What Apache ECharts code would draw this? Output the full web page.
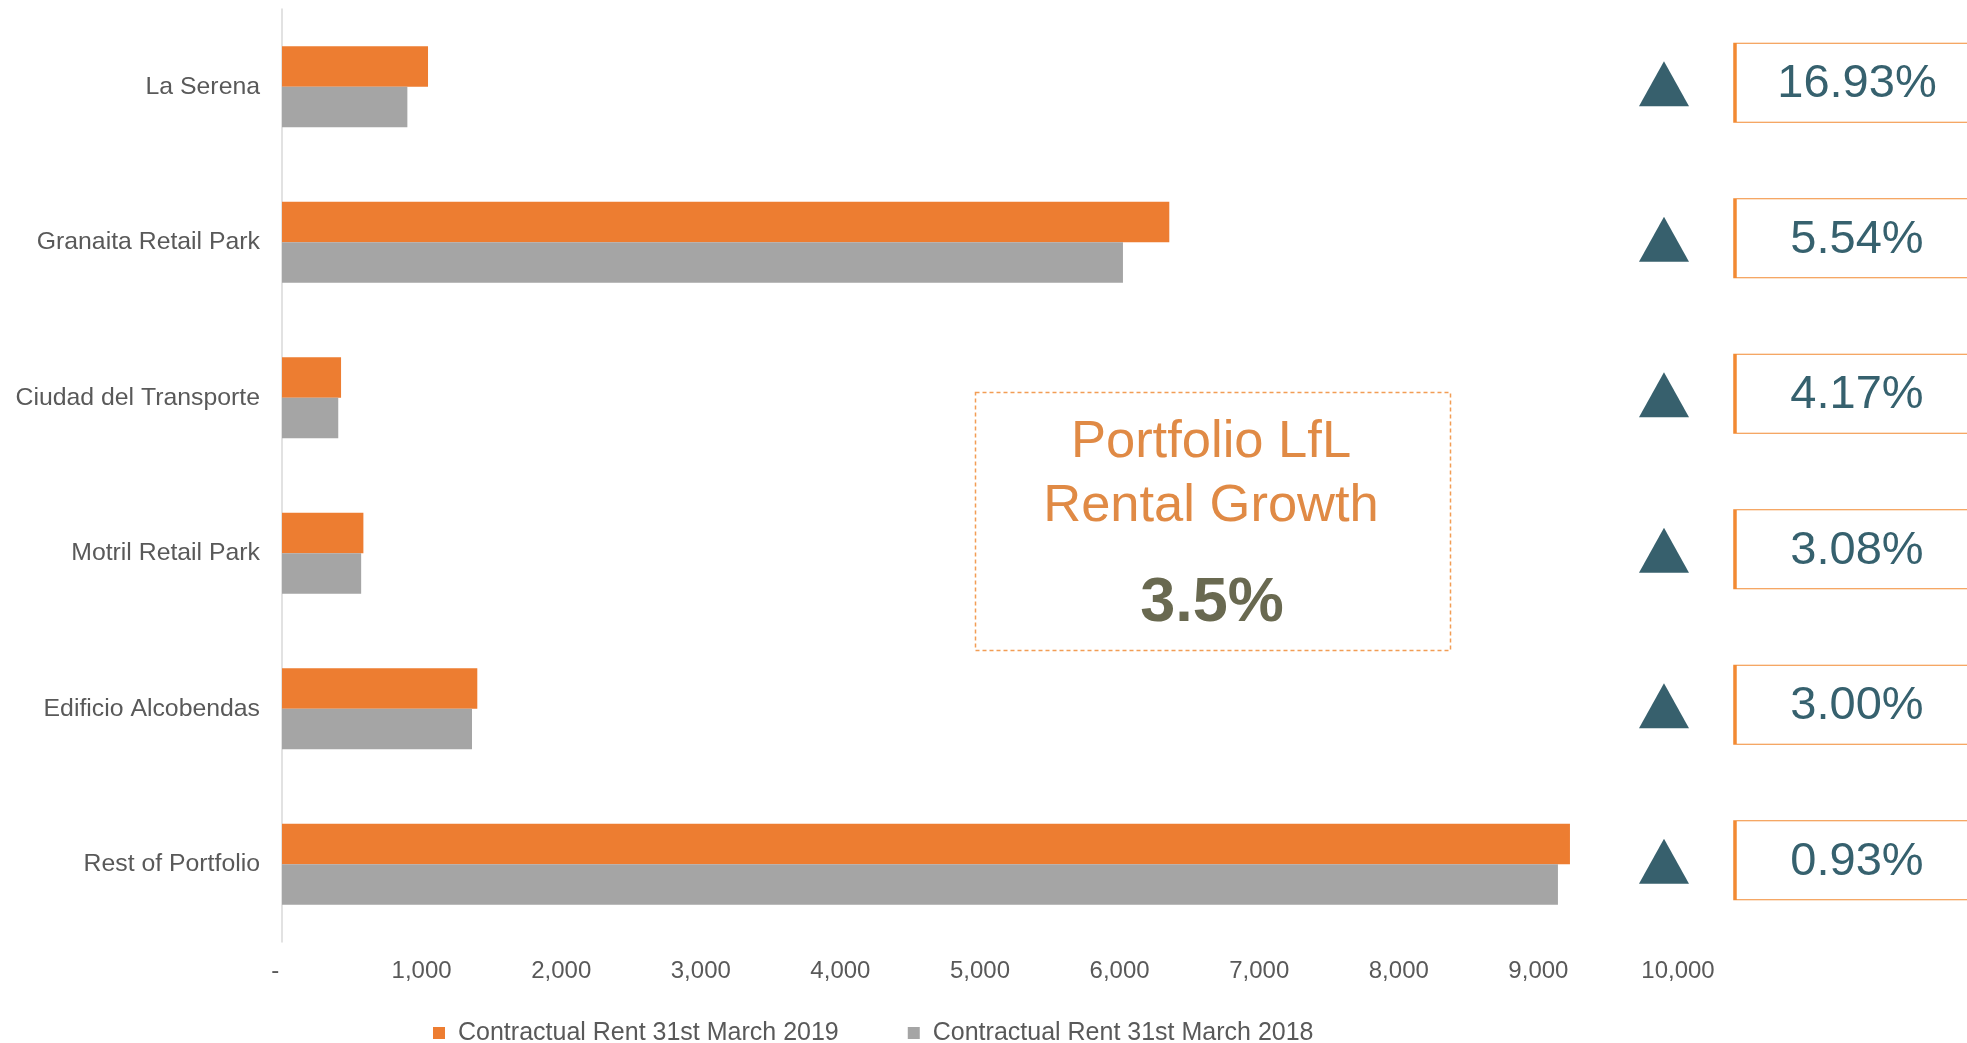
<!DOCTYPE html>
<html>
<head>
<meta charset="utf-8">
<script src="https://cdn.jsdelivr.net/npm/echarts@6/dist/echarts.min.js"></script>
<style>
  html, body { margin: 0; padding: 0; background: #fff; }
  #main { width: 1967px; height: 1043px; }
</style>
</head>
<body>
<div id="main"></div>
<script>
var categories = ['La Serena', 'Granaita Retail Park', 'Ciudad del Transporte', 'Motril Retail Park', 'Edificio Alcobendas', 'Rest of Portfolio'];
var rent2019 = [1046, 6356, 423, 583, 1399, 9226];
var rent2018 = [898, 6024, 403, 567, 1361, 9140];
var growth = [16.93, 5.54, 4.17, 3.08, 3.00, 0.93];
var seriesNames = ['Contractual Rent 31st March 2019', 'Contractual Rent 31st March 2018'];
var portfolioGrowth = '3.5%';

var font = 'Liberation Sans, Arial, sans-serif';
var textGray = '#595959';
var teal = '#37606D';

var chart = echarts.init(document.getElementById('main'));

chart.setOption({
  animation: false,
  textStyle: { fontFamily: font },
  grid: [
    { left: 282, right: 289, top: 9, height: 933 },
    { left: 1560, right: 0, top: 9, height: 933 }
  ],
  xAxis: [
    {
      gridIndex: 0, type: 'value', min: 0, max: 10000, interval: 1000,
      axisLine: { show: false }, axisTick: { show: false }, splitLine: { show: false },
      axisLabel: {
        color: textGray, fontSize: 24, fontFamily: font, margin: 17,
        formatter: function (v) { return v === 0 ? '-  ' : v.toLocaleString('en-US'); }
      }
    },
    { gridIndex: 1, type: 'value', min: 0, max: 100, show: false }
  ],
  yAxis: [
    {
      gridIndex: 0, type: 'category', data: categories, inverse: true,
      axisLine: { show: true, lineStyle: { color: '#D9D9D9', width: 1.5 } },
      axisTick: { show: false },
      axisLabel: { color: textGray, fontSize: 24.8, fontFamily: font, margin: 22 }
    },
    { gridIndex: 1, type: 'category', data: categories, inverse: true, show: false }
  ],
  legend: {
    data: seriesNames,
    left: 433, top: 1020, padding: 0,
    icon: 'rect', itemWidth: 12, itemHeight: 12, itemGap: 69,
    textStyle: { color: textGray, fontSize: 25, fontFamily: font, lineHeight: 26, padding: [0, 0, 0, 8] }
  },
  series: [
    {
      name: seriesNames[0], type: 'bar', data: rent2019,
      xAxisIndex: 0, yAxisIndex: 0,
      barWidth: 40.6, barGap: '0%',
      itemStyle: { color: '#ED7D31' }
    },
    {
      name: seriesNames[1], type: 'bar', data: rent2018,
      xAxisIndex: 0, yAxisIndex: 0,
      barWidth: 40.6, barGap: '0%',
      itemStyle: { color: '#A5A5A5' }
    },
    {
      type: 'scatter', xAxisIndex: 1, yAxisIndex: 1,
      data: categories.map(function (c) { return [25.55, c]; }),
      symbol: 'triangle', symbolSize: [50, 45], symbolOffset: [0, -3],
      itemStyle: { color: teal, opacity: 1 }, silent: true, clip: false
    },
    {
      type: 'scatter', xAxisIndex: 1, yAxisIndex: 1,
      data: categories.map(function (c, i) { return [72.97, c, growth[i]]; }),
      symbol: 'rect', symbolSize: [244, 79], symbolOffset: [0, -4],
      itemStyle: { color: '#fff', borderColor: '#F28A33', borderWidth: 2, opacity: 1 },
      label: {
        show: true, position: 'inside', offset: [0, 1.5],
        color: '#36616E', fontSize: 47, fontFamily: font,
        formatter: function (p) { return p.value[2].toFixed(2) + '%'; }
      },
      silent: true, clip: false
    }
  ],
  graphic: [
    {
      type: 'rect', left: 973, top: 390, silent: true,
      shape: { width: 475, height: 258 },
      style: { fill: 'none', stroke: '#F29D55', lineWidth: 1.5, lineDash: [4, 3] }
    },
    {
      type: 'text', x: 1211, y: 443, silent: true,
      style: { text: 'Portfolio LfL', fill: '#E08A45', font: '52.5px ' + font, textAlign: 'center', textVerticalAlign: 'middle' }
    },
    {
      type: 'text', x: 1211, y: 507, silent: true,
      style: { text: 'Rental Growth', fill: '#E08A45', font: '52.5px ' + font, textAlign: 'center', textVerticalAlign: 'middle' }
    },
    {
      type: 'text', x: 1212, y: 604, silent: true,
      style: { text: portfolioGrowth, fill: '#696950', font: 'bold 63px ' + font, textAlign: 'center', textVerticalAlign: 'middle' }
    }
  ]
});
</script>
</body>
</html>
